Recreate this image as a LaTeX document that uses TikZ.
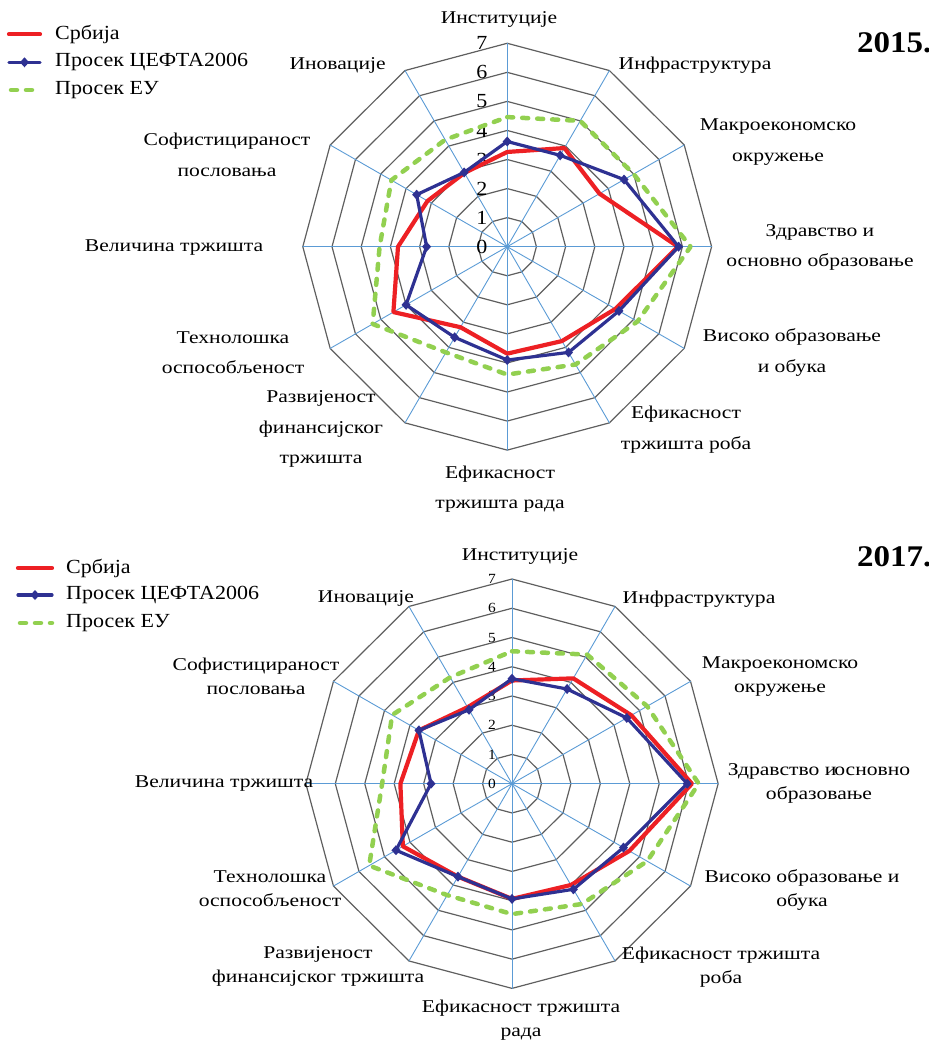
\documentclass[tikz,border=0pt]{standalone}
\usepackage{fontspec}
\setmainfont{Liberation Serif}[FakeStretch=1.1]
\newfontfamily\labelfont{Liberation Serif}[FakeStretch=1.2]
\usetikzlibrary{positioning}
\definecolor{serbiared}{RGB}{237,32,36}
\definecolor{ceftablue}{RGB}{46,49,146}
\definecolor{eugreen}{RGB}{146,208,80}
\definecolor{gridgrey}{RGB}{95,95,95}
\definecolor{spokeblue}{RGB}{91,155,213}
\tikzset{
  gridline/.style={draw=gridgrey,line width=1.2pt},
  spoke/.style={draw=spokeblue,line width=0.9pt},
  serbia/.style={draw=serbiared,line width=4.2pt},
  cefta/.style={draw=ceftablue,line width=3.2pt},
  eu/.style={draw=eugreen,line width=4.5pt,line cap=round,dash pattern=on 6pt off 9pt},
  legendtext/.style={inner sep=0pt,anchor=west,font=\fontsize{20}{20}\selectfont},
  yeartext/.style={inner sep=0pt,anchor=west,font=\bfseries\fontsize{30}{30}\selectfont},
  labelone/.style={inner sep=0pt,align=center,font=\labelfont\fontsize{18}{30.5}\selectfont},
  labeltwo/.style={inner sep=0pt,align=center,font=\labelfont\fontsize{18}{24}\selectfont},
  tickone/.style={inner sep=0pt,font=\fontsize{20}{20}\selectfont},
  ticktwo/.style={inner sep=0pt,font=\fontsize{14}{14}\selectfont}
}
% 12-gon grid with spokes, drawn round the origin of the current scope
\newcommand\radargrid{%
  \foreach \r in {1,...,7}
    \draw[gridline] (90:\r) \foreach \k in {1,...,11} {-- ({90-30*\k}:\r)} -- cycle;
  \foreach \k in {0,...,11}
    \draw[spoke] (0,0) -- ({90-30*\k}:7);
}
\newcommand\ceftamarks[1]{%
  \foreach \v [count=\k from 0] in {#1}
    \fill[ceftablue] ({90-30*\k}:\v) +(0,5pt) -- +(4.5pt,0) -- +(0,-5pt) -- +(-4.5pt,0) -- cycle;
}
\begin{document}
\begin{tikzpicture}[x=1pt,y=1pt,line join=round,line cap=round]
\useasboundingbox (0,0) rectangle (928,-1040);
\clip (0,0) rectangle (928,-1040);

% ---------- 2015 ----------
\begin{scope}[shift={(507.2,-246.7)},x=29.2pt,y=29.06pt]
  \radargrid
  \foreach \r in {0,...,7}
    \node[tickone] (a-t\r) at (-0.87,\r) {\r};
  \draw[serbia] (90:3.26) \foreach \v [count=\k] in {3.92,3.65,5.85,4.28,3.75,3.68,3.2,4.5,3.74,3.15,2.93}
    {-- ({90-30*\k}:\v)} -- cycle;
  \draw[cefta] (90:3.62) \foreach \v [count=\k] in {3.63,4.62,5.87,4.42,4.2,3.9,3.6,4.0,2.76,3.58,2.95}
    {-- ({90-30*\k}:\v)} -- cycle;
  \ceftamarks{3.62,3.63,4.62,5.87,4.42,4.2,3.9,3.6,4.0,2.76,3.58,2.95}
  \draw[eu] (90:4.46) \foreach \v [count=\k] in {5.0,5.0,6.28,5.15,4.68,4.4,4.2,5.32,4.37,4.58,4.25}
    {-- ({90-30*\k}:\v)} -- cycle;
\end{scope}

\node[labelone] (a-inst) at (499,-19.3) {Институције};
\node[labelone] (a-infra) at (695,-65.7) {Инфраструктура};
\node[labelone] (a-macro) at (778,-142.2) {Макроекономско\\окружење};
\node[labelone] (a-health) at (820,-247.5) {Здравство и\\основно образовање};
\node[labelone] (a-higher) at (792,-352.7) {Високо образовање\\и обука};
\node[labelone] (a-goods) at (686,-429.7) {Ефикасност\\тржишта роба};
\node[labelone] (a-labour) at (500,-489.2) {Ефикасност\\тржишта рада};
\node[labelone] (a-finance) at (321,-429.2) {Развијеност\\финансијског\\тржишта};
\node[labelone] (a-tech) at (233,-352.7) {Технолошка\\оспособљеност};
\node[labelone] (a-size) at (174,-247.7) {Величина тржишта};
\node[labelone] (a-business) at (227,-154.7) {Софистицираност\\пословања};
\node[labelone] (a-innov) at (337.6,-65) {Иновације};

\node[yeartext] (a-year) at (857,-43) {2015.};

% legend
\draw[serbia] (9,-34.3) -- (40,-34.3) coordinate (a-l1);
\node[legendtext,right=15pt of a-l1] (a-srb) {Србија};
\draw[cefta] (9,-62.3) -- (40,-62.3) coordinate (a-l2);
\fill[ceftablue] (24.5,-62.3) +(0,5pt) -- +(4.5pt,0) -- +(0,-5pt) -- +(-4.5pt,0) -- cycle;
\node[legendtext,right=15pt of a-l2] (a-cef) {Просек ЦЕФТА2006};
\draw[eu] (11,-90) -- (40,-90) coordinate (a-l3);
\node[legendtext,right=15pt of a-l3] (a-eu) {Просек ЕУ};

% ---------- 2017 ----------
\begin{scope}[shift={(512,-783.7)},x=29.45pt,y=29.24pt]
  \radargrid
  \foreach \r in {0,...,7}
    \node[ticktwo] (b-t\r) at (-0.68,\r) {\r};
  \draw[serbia] (90:3.53) \foreach \v [count=\k] in {4.16,4.68,6.11,4.6,4.0,3.94,3.67,4.28,3.79,3.65,3.02}
    {-- ({90-30*\k}:\v)} -- cycle;
  \draw[cefta] (90:3.59) \foreach \v [count=\k] in {3.74,4.5,5.95,4.37,4.17,3.94,3.67,4.55,2.75,3.65,2.92}
    {-- ({90-30*\k}:\v)} -- cycle;
  \ceftamarks{3.59,3.74,4.5,5.95,4.37,4.17,3.94,3.67,4.55,2.75,3.65,2.92}
  \draw[eu] (90:4.53) \foreach \v [count=\k] in {5.1,5.3,6.34,5.3,4.75,4.46,4.4,5.6,4.41,4.7,4.2}
    {-- ({90-30*\k}:\v)} -- cycle;
\end{scope}

\node[labeltwo] (b-inst) at (520,-556.7) {Институције};
\node[labeltwo] (b-infra) at (699,-599) {Инфраструктура};
\node[labeltwo] (b-macro) at (780,-676.3) {Макроекономско\\окружење};
\node[labeltwo] (b-health) at (819,-783.3) {Здравство и\kern-2pt основно\\образовање};
\node[labeltwo] (b-higher) at (802,-889.5) {Високо образовање и\\обука};
\node[labeltwo] (b-goods) at (721,-966.7) {Ефикасност тржишта\\роба};
\node[labeltwo] (b-labour) at (521,-1020.3) {Ефикасност тржишта\\рада};
\node[labeltwo] (b-finance) at (318,-966.7) {Развијеност\\финансијског тржишта};
\node[labeltwo] (b-tech) at (270,-889) {Технолошка\\оспособљеност};
\node[labeltwo] (b-size) at (224,-783.3) {Величина тржишта};
\node[labeltwo] (b-business) at (256,-676.2) {Софистицираност\\пословања};
\node[labeltwo] (b-innov) at (366,-598.3) {Иновације};

\node[yeartext] (b-year) at (857,-557) {2017.};

% legend
\draw[serbia] (18,-568) -- (52,-568) coordinate (b-l1);
\node[legendtext,right=14pt of b-l1] (b-srb) {Србија};
\draw[cefta] (18,-595) -- (52,-595) coordinate (b-l2);
\fill[ceftablue] (35,-595) +(0,5pt) -- +(4.5pt,0) -- +(0,-5pt) -- +(-4.5pt,0) -- cycle;
\node[legendtext,right=14pt of b-l2] (b-cef) {Просек ЦЕФТА2006};
\draw[eu] (20,-623) -- (52,-623) coordinate (b-l3);
\node[legendtext,right=14pt of b-l3] (b-eu) {Просек ЕУ};
\end{tikzpicture}
\end{document}
